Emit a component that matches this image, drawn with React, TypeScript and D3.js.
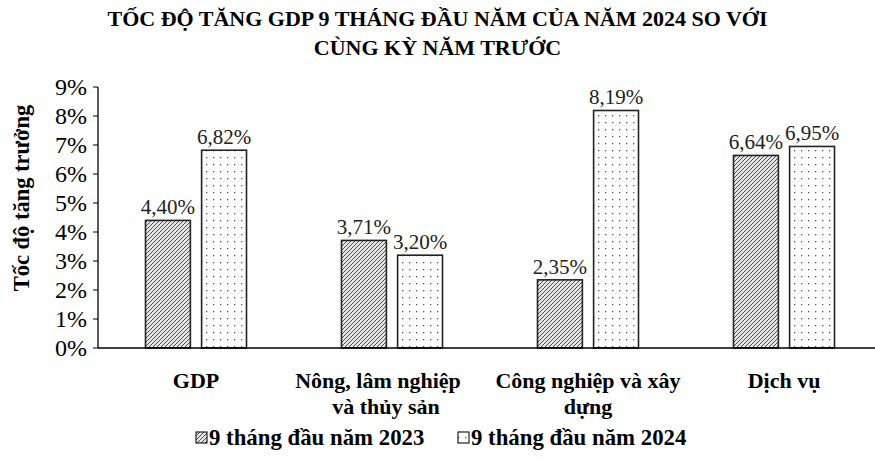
import React from 'react';
import * as d3 from 'd3';

const categories = [
    ['GDP'],
    ['Nông, lâm nghiệp', 'và thủy sản'],
    ['Công nghiệp và xây', 'dựng'],
    ['Dịch vụ'],
];
const seriesNames = ['9 tháng đầu năm 2023', '9 tháng đầu năm 2024'];
const values2023 = [4.4, 3.71, 2.35, 6.64];
const values2024 = [6.82, 3.2, 8.19, 6.95];
const yTicks = [0, 1, 2, 3, 4, 5, 6, 7, 8, 9];

const W = 875;
const H = 458;
const FONT = '"Liberation Serif", "Times New Roman", serif';

const App: React.FC = () => {
    const margin = { top: 87, left: 98, bottom: 110 };
    const x0 = d3
        .scaleBand<number>()
        .domain(categories.map((_, i) => i))
        .range([margin.left, margin.left + 196 * 4]);
    const x1 = d3.scaleBand<number>().domain([0, 1]).range([-50.5, 50.5]).paddingInner(0.2);
    const y = d3.scaleLinear().domain([0, 9]).range([348, 87]);
    const series = [values2023, values2024];
    const fills = ['url(#hatch)', 'url(#dots)'];
    const fmt = (v: number) => v.toFixed(2).replace('.', ',') + '%';

    return (
        <svg
            width={W}
            height={H}
            style={{ position: 'absolute', left: 0, top: 0, background: '#fff' }}
            fontFamily={FONT}
        >
            <defs>
                <pattern id="hatch" patternUnits="userSpaceOnUse" width={4} height={4}>
                    <rect width={4} height={4} fill="#e6e6e6" />
                    <path d="M-1,1 l2,-2 M0,4 l4,-4 M3,5 l2,-2" stroke="#4a4a4a" strokeWidth={1} />
                </pattern>
                <pattern id="dots" patternUnits="userSpaceOnUse" width={7} height={7}>
                    <rect width={7} height={7} fill="#fff" />
                    <rect x={3} y={3} width={1.3} height={1.3} fill="#555" />
                </pattern>
            </defs>

            <text x={W / 2} y={26} textAnchor="middle" fontWeight="bold" fontSize={22}>
                TỐC ĐỘ TĂNG GDP 9 THÁNG ĐẦU NĂM CỦA NĂM 2024 SO VỚI
            </text>
            <text x={W / 2} y={55} textAnchor="middle" fontWeight="bold" fontSize={22}>
                CÙNG KỲ NĂM TRƯỚC
            </text>

            <text
                transform={`translate(29, 198) rotate(-90)`}
                textAnchor="middle"
                fontWeight="bold"
                fontSize={22.5}
            >
                Tốc độ tăng trưởng
            </text>

            {yTicks.map((t) => (
                <g key={t}>
                    <line x1={margin.left - 5} x2={margin.left} y1={y(t)} y2={y(t)} stroke="#000" />
                    <text x={87} y={y(t) + 8} textAnchor="end" fontSize={24}>
                        {t}%
                    </text>
                </g>
            ))}
            <line x1={margin.left} x2={margin.left} y1={y(9)} y2={y(0)} stroke="#000" strokeWidth={1.3} />

            {categories.map((lines, i) => {
                const cx = (x0(i) as number) + x0.bandwidth() / 2;
                return (
                    <g key={i}>
                        {series.map((vals, s) => {
                            const bx = cx + (x1(s) as number);
                            return (
                                <g key={s}>
                                    <rect
                                        x={bx}
                                        y={y(vals[i])}
                                        width={x1.bandwidth()}
                                        height={y(0) - y(vals[i])}
                                        fill={fills[s]}
                                        stroke="#222"
                                        strokeWidth={1.6}
                                    />
                                    <text
                                        x={bx + x1.bandwidth() / 2}
                                        y={y(vals[i]) - 6}
                                        textAnchor="middle"
                                        fontSize={21}
                                        fill="#222"
                                    >
                                        {fmt(vals[i])}
                                    </text>
                                </g>
                            );
                        })}
                        {lines.map((ln, k) => (
                            <text
                                key={k}
                                x={cx + (i === 1 ? -14 + k * 8 : 0)}
                                y={388 + k * 26}
                                textAnchor="middle"
                                fontWeight="bold"
                                fontSize={22}
                            >
                                {ln}
                            </text>
                        ))}
                    </g>
                );
            })}
            <line x1={margin.left} x2={W} y1={y(0)} y2={y(0)} stroke="#000" strokeWidth={1.3} />

            {seriesNames.map((name, s) => {
                const lx = s === 0 ? 196 : 458;
                return (
                    <g key={s}>
                        <rect x={lx} y={432} width={11} height={11} fill={fills[s]} stroke="#222" strokeWidth={1.2} />
                        <text x={lx + 13} y={445} fontWeight="bold" fontSize={22.8}>
                            {name}
                        </text>
                    </g>
                );
            })}
        </svg>
    );
};

export default App;
